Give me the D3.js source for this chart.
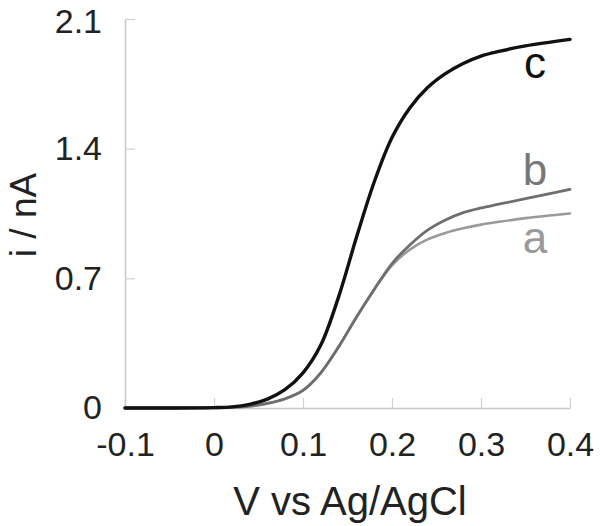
<!DOCTYPE html>
<html>
<head>
<meta charset="utf-8">
<script src="https://cdn.jsdelivr.net/npm/d3@7"></script>
<style>
  body { margin: 0; background: #fff; }
  svg { display: block; font-family: "Liberation Sans", Arial, sans-serif; }
</style>
</head>
<body>
<div id="chart"></div>
<script>
// potential (V vs Ag/AgCl)
const potential = [-0.1, -0.05, 0, 0.02, 0.04, 0.06, 0.08, 0.1, 0.12, 0.14, 0.16, 0.18, 0.2, 0.22, 0.24, 0.26, 0.28, 0.3, 0.32, 0.35, 0.4];
// current (nA) for each curve
const curveA = [0, 0, 0.001, 0.003, 0.01, 0.025, 0.05, 0.095, 0.19, 0.33, 0.49, 0.64, 0.77, 0.855, 0.91, 0.945, 0.97, 0.99, 1.005, 1.025, 1.05];
const curveB = [0, 0, 0.001, 0.003, 0.01, 0.025, 0.05, 0.095, 0.19, 0.33, 0.49, 0.64, 0.78, 0.88, 0.96, 1.015, 1.055, 1.08, 1.10, 1.13, 1.18];
const curveC = [0, 0, 0.002, 0.006, 0.02, 0.048, 0.10, 0.19, 0.34, 0.60, 0.92, 1.22, 1.46, 1.62, 1.73, 1.805, 1.86, 1.90, 1.925, 1.955, 1.99];

const xTicks = [-0.1, 0, 0.1, 0.2, 0.3, 0.4];
const yTicks = [0, 0.7, 1.4, 2.1];
const seriesNames = ["a", "b", "c"];

const width = 600, height = 526;
const margin = { top: 19, right: 30, bottom: 118, left: 125 };

const x = d3.scaleLinear()
    .domain([-0.1, 0.4])
    .range([margin.left, width - margin.right]);

const y = d3.scaleLinear()
    .domain([0, 2.1])
    .range([height - margin.bottom, margin.top]);

const svg = d3.select("#chart")
    .append("svg")
    .attr("width", width)
    .attr("height", height);

// plain hyphen for negatives, like the original figure
const fmt = d => d === 0 ? "0" : d.toFixed(1);

// axes
const xAxis = svg.append("g")
    .attr("transform", `translate(0,${height - margin.bottom})`)
    .call(d3.axisBottom(x).tickValues(xTicks).tickSizeInner(-10).tickSizeOuter(0).tickPadding(24).tickFormat(fmt));

const yAxis = svg.append("g")
    .attr("transform", `translate(${margin.left},0)`)
    .call(d3.axisLeft(y).tickValues(yTicks).tickSizeInner(-10).tickSizeOuter(0).tickPadding(23).tickFormat(fmt));

[xAxis, yAxis].forEach(g => {
    g.select(".domain").attr("stroke", "#c8c8c8").attr("stroke-width", 1.5);
    g.selectAll(".tick line").attr("stroke", "#d0d0d0").attr("stroke-width", 1.2);
    g.selectAll(".tick text")
        .attr("fill", "#222")
        .style("font-size", "34px")
        .style("font-family", "'Liberation Sans', Arial, sans-serif");
});
// keep the top label inside the picture
yAxis.selectAll(".tick text").filter(d => d === 2.1).attr("dy", "0.4em");

// curves
const line = d3.line()
    .x((d, i) => x(potential[i]))
    .y(d => y(d))
    .curve(d3.curveCatmullRom.alpha(0.5));

const series = [
    { values: curveA, color: "#9a9a9a", width: 2.6, label: 253, labelColor: "#9a9a9a" },
    { values: curveB, color: "#6e6e6e", width: 2.8, label: 185, labelColor: "#777" },
    { values: curveC, color: "#111", width: 3.4, label: 78, labelColor: "#111" }
];

svg.selectAll(".curve")
    .data(series)
    .enter().append("path")
    .attr("class", "curve")
    .attr("fill", "none")
    .attr("stroke", d => d.color)
    .attr("stroke-width", d => d.width)
    .attr("stroke-linecap", "round")
    .attr("d", d => line(d.values));

// curve labels
svg.selectAll(".lbl")
    .data(series)
    .enter().append("text")
    .attr("class", "lbl")
    .attr("x", 535)
    .attr("y", d => d.label)
    .attr("text-anchor", "middle")
    .style("font-size", "44px")
    .attr("fill", d => d.labelColor)
    .text((d, i) => seriesNames[i]);

// axis titles
svg.append("text")
    .attr("x", 350)
    .attr("y", 515)
    .attr("text-anchor", "middle")
    .style("font-size", "40px")
    .attr("fill", "#222")
    .text("V vs Ag/AgCl");

svg.append("text")
    .attr("transform", "translate(36,215) rotate(-90)")
    .attr("text-anchor", "middle")
    .style("font-size", "37px")
    .attr("fill", "#222")
    .text("i / nA");
</script>
</body>
</html>
